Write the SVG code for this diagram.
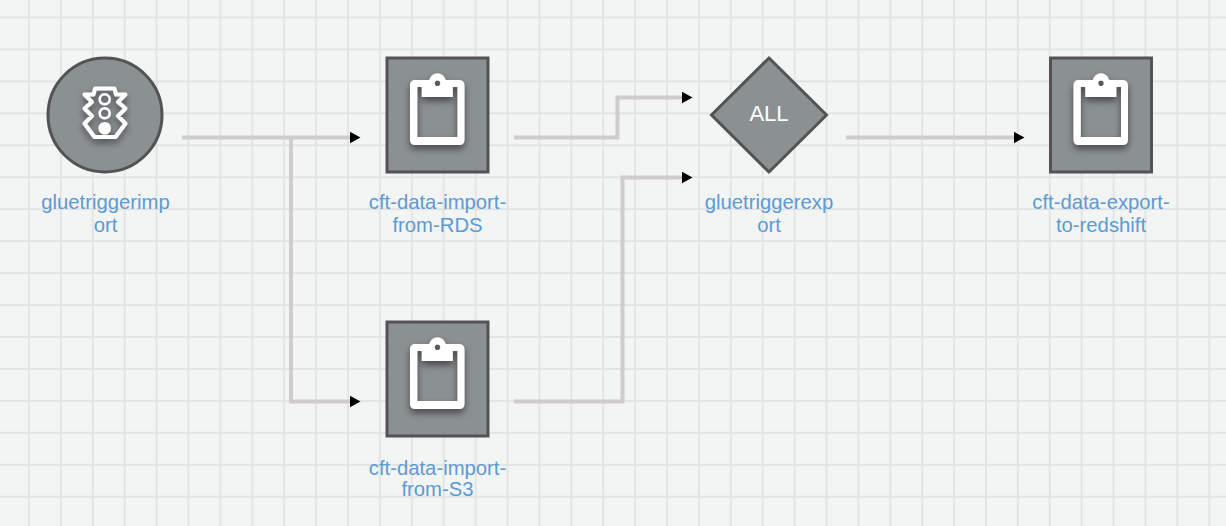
<svg xmlns="http://www.w3.org/2000/svg" width="1226" height="526" viewBox="0 0 1226 526">
<style>
.shape{fill:#8b9092;stroke:#515354;stroke-width:3}
.lbl{font-family:"Liberation Sans",Arial,sans-serif;font-size:20.300px;fill:#5b9bd5;text-anchor:middle}
.conn{fill:none;stroke:#cfcccc;stroke-width:4}
.icon{filter:url(#sh)}
.icon .o{fill:none;stroke:#fff;stroke-linejoin:round}
.icon .f{fill:#fff}
</style>
<defs>
<pattern id="grid" x="28" y="16.500" width="31.900" height="31.950" patternUnits="userSpaceOnUse">
<path d="M1 0V32M0 1H32" fill="none" stroke="#e2e3e3" stroke-width="1.800"/>
</pattern>
<filter id="sh" x="-40%" y="-40%" width="180%" height="180%"><feDropShadow dx="0" dy="4" stdDeviation="3.500" flood-color="#000" flood-opacity=".5"/></filter>
<marker id="arr" markerUnits="userSpaceOnUse" markerWidth="13" markerHeight="13" refX="0" refY="6.500" orient="auto"><path d="M0 .8L10.500 6.500L0 12.200Z" fill="#000"/></marker>
<g id="clip" class="icon">
<path class="f" fill-rule="evenodd" d="M415 80H429.200A8.500 8.500 0 0 1 445.800 80H459Q464.500 80 464.500 85.500V139.500Q464.500 145 459 145H415.500Q410 145 410 139.500V85.500Q410 80 415 80ZM417.300 87V137H457.500V87H452.800V97H421.800V87ZM437.500 80.500A2.800 2.800 0 1 0 437.500 86.100A2.800 2.800 0 1 0 437.500 80.500Z"/>
</g>
</defs>
<rect width="1226" height="526" fill="#f3f4f4"/>
<rect width="1226" height="526" fill="url(#grid)"/>
<g id="connectors">
<path class="conn" d="M182 137.500H350" marker-end="url(#arr)"/>
<path class="conn" d="M291 137.500V401.500H350" marker-end="url(#arr)"/>
<path class="conn" d="M514 137.500H617.500V97.500H682" marker-end="url(#arr)"/>
<path class="conn" d="M514 401.500H622.500V177.500H682" marker-end="url(#arr)"/>
<path class="conn" d="M846 137.500H1014" marker-end="url(#arr)"/>
</g>
<g id="gluetriggerimport">
<circle class="shape" cx="105" cy="115" r="57"/>
<g class="icon">
<path class="o" stroke-width="4" d="M95 88.500H114.500L116 94.500H125.500L118 102L125.500 108.500L118 116L125.500 123.500L115.500 137H94.500L84.500 123.500L92 116L84.500 108.500L92 102L84.500 94.500H93.500Z"/>
<circle class="o" stroke-width="2.500" cx="104.700" cy="99.300" r="5"/>
<circle class="o" stroke-width="2.500" cx="104.700" cy="113.300" r="5"/>
<circle class="f" cx="104.700" cy="128.300" r="6.300"/>
</g>
<text class="lbl" x="105.500" y="209">gluetriggerimp</text>
<text class="lbl" x="105.500" y="232">ort</text>
</g>
<g id="cft-data-import-from-RDS">
<rect class="shape" x="387" y="58" width="101" height="114"/>
<use href="#clip"/>
<text class="lbl" x="437.500" y="209">cft-data-import-</text>
<text class="lbl" x="437.500" y="232">from-RDS</text>
</g>
<g id="cft-data-import-from-S3">
<rect class="shape" x="387" y="322" width="101" height="114"/>
<use href="#clip" y="264"/>
<text class="lbl" x="437.500" y="474.500">cft-data-import-</text>
<text class="lbl" x="437.500" y="496">from-S3</text>
</g>
<g id="gluetriggerexport">
<path class="shape" d="M769 58L826.500 115L769 172L711.500 115Z"/>
<text x="769" y="120.500" font-family="'Liberation Sans',Arial,sans-serif" font-size="22" fill="#fff" text-anchor="middle">ALL</text>
<text class="lbl" x="769" y="209">gluetriggerexp</text>
<text class="lbl" x="769" y="232">ort</text>
</g>
<g id="cft-data-export-to-redshift">
<rect class="shape" x="1050.500" y="58" width="101" height="114"/>
<use href="#clip" x="663.500"/>
<text class="lbl" x="1101" y="209">cft-data-export-</text>
<text class="lbl" x="1101" y="232">to-redshift</text>
</g>
</svg>
